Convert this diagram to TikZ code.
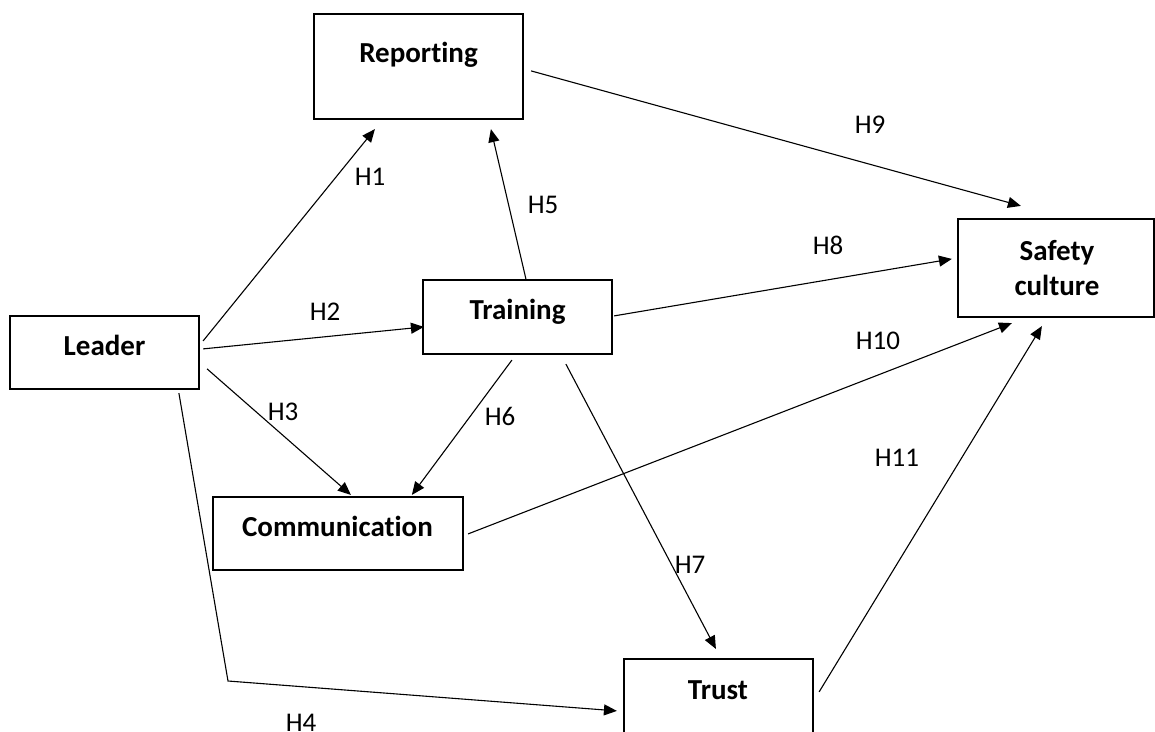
\documentclass[tikz,border=0pt]{standalone}
\usepackage{fontspec}
\setmainfont{Carlito}[Ligatures=CommonOff]
\usetikzlibrary{arrows.meta}
\begin{document}
\begin{tikzpicture}[x=1pt,y=-1pt,
  box/.style={draw, line width=2.2pt, inner sep=0pt},
  boxtext/.style={font=\fontsize{29}{35}\selectfont\bfseries, anchor=base, inner sep=0pt},
  link/.style={line width=1.1pt, -{Triangle[length=13pt,width=11pt]}},
  hyp/.style={font=\fontsize{27}{32}\selectfont, inner sep=0pt}]
\useasboundingbox (0,0) rectangle (1155,731);

% construct boxes
\node[box, minimum width=209pt, minimum height=105pt] (rep)   at (418.5,66.5) {};
\node[box, minimum width=189pt, minimum height=73pt]  (lead)  at (104.5,352.5) {};
\node[box, minimum width=189pt, minimum height=74pt]  (train) at (517.5,317) {};
\node[box, minimum width=196pt, minimum height=98pt]  (safe)  at (1056,268) {};
\node[box, minimum width=250pt, minimum height=73pt]  (comm)  at (338,533.5) {};
\node[box, minimum width=189pt, minimum height=81pt]  (trust) at (718.5,699.5) {};

% box captions
\node[boxtext] (reptext)   at (418.5,62)  {Reporting};
\node[boxtext] (leadtext)  at (104.5,355) {Leader};
\node[boxtext] (traintext) at (517.5,319) {Training};
\node[boxtext] (safetext1) at (1057,260)  {Safety};
\node[boxtext] (safetext2) at (1057,295)  {culture};
\node[boxtext] (commtext)  at (337.5,536) {Communication};
\node[boxtext] (trusttext) at (718,699)   {Trust};

% hypothesised paths
\draw[link] ([shift={(3,26)}]lead.north east) -- ([shift={(62,9)}]rep.south west);
\draw[link] ([shift={(3,34)}]lead.north east) -- ([shift={(2,48)}]train.north west);
\draw[link] ([shift={(7,54)}]lead.north east) -- ([shift={(139,-1)}]comm.north west);
\coordinate (bend) at (228,681);
\draw[link] ([shift={(170,3)}]lead.south west) -- (bend) -- ([shift={(-6,53)}]trust.north west);
\draw[link] ([shift={(104,0)}]train.north west) -- ([shift={(178,9)}]rep.south west);
\draw[link] ([shift={(90,5)}]train.south west) -- ([shift={(200,-1)}]comm.north west);
\draw[link] ([shift={(144,9)}]train.south west) -- ([shift={(93,-9)}]trust.north west);
\draw[link] ([shift={(1,37)}]train.north east) -- ([shift={(-5,41)}]safe.north west);
\draw[link] ([shift={(7,58)}]rep.north east) -- ([shift={(64,-12)}]safe.north west);
\draw[link] ([shift={(4,38)}]comm.north east) -- ([shift={(55,5)}]safe.south west);
\draw[link] ([shift={(5,34)}]trust.north east) -- ([shift={(85,8)}]safe.south west);

% path labels
\node[hyp] (h1)  at (370,177) {H1};
\node[hyp] (h2)  at (325,312) {H2};
\node[hyp] (h3)  at (283,412) {H3};
\node[hyp] (h4)  at (301,723) {H4};
\node[hyp] (h5)  at (543,205) {H5};
\node[hyp] (h6)  at (500,416) {H6};
\node[hyp] (h7)  at (690,565) {H7};
\node[hyp] (h8)  at (828,245) {H8};
\node[hyp] (h9)  at (870,125) {H9};
\node[hyp] (h10) at (878,341) {H10};
\node[hyp] (h11) at (897,458) {H11};
\end{tikzpicture}
\end{document}
